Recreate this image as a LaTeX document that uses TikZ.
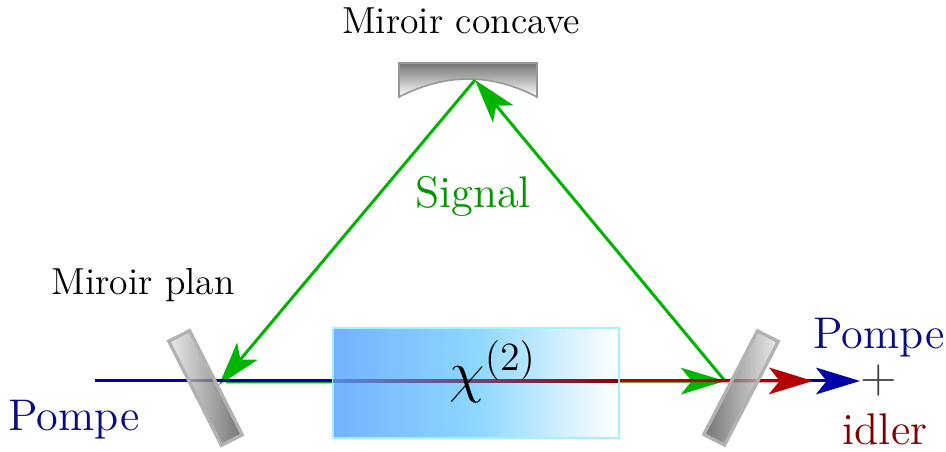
\documentclass[tikz,border=0pt]{standalone}
\usepackage{amsmath,amssymb}
\usepackage{xcolor}
\usetikzlibrary{arrows.meta}

\definecolor{pompeblue}{RGB}{0,0,170}
\definecolor{pompetext}{RGB}{10,10,130}
\definecolor{idlerred}{RGB}{180,0,0}
\definecolor{idlertext}{RGB}{125,0,0}
\definecolor{signalgreen}{RGB}{0,180,0}
\definecolor{signaltext}{RGB}{0,150,0}
\definecolor{crystalL}{RGB}{115,178,255}
\definecolor{crystalM}{RGB}{140,215,255}
\definecolor{crystaledge}{RGB}{165,240,255}
\definecolor{beamL}{RGB}{85,135,225}

\begin{document}
\begin{tikzpicture}[
  x=0.3pt, y=-0.3pt,
  beam/.style={line width=0.9pt},
  bigtip/.style={-{Stealth[length=13.2pt, width=8pt, inset=3.2pt]}},
  planmirror/.style={draw=gray!60, line width=1pt, minimum width=35pt, minimum height=7pt, inner sep=0pt, fill opacity=0.78},
  label/.style={font=\fontsize{11.3}{13}\selectfont, inner sep=0pt},
  biglabel/.style={font=\fontsize{13.3}{15}\selectfont, inner sep=0pt}
]
  \useasboundingbox (0,0) rectangle (946,452);
  \coordinate (apex) at (475,80);
  \coordinate (hitL) at (219,385);
  \coordinate (hitR) at (725,381);
  \coordinate (greenL) at (226,382);
  \coordinate (pompeIn) at (95,381);
  \coordinate (pompeOut) at (860,381);
  \coordinate (idlerOut) at (813,381);
  \coordinate (beamA) at (333,379.5);
  \coordinate (beamB) at (618,382.5);
  % faisceaux
  \draw[beam, signalgreen, bigtip] (hitR) -- (apex);
  \draw[beam, signalgreen, bigtip] (apex) -- (hitL);
  \draw[beam, signalgreen, bigtip] (greenL) -- (hitR);
  \draw[beam, pompeblue] (pompeIn) -- (340,381);
  \draw[beam, pompeblue, bigtip] (610,381) -- (pompeOut);
  \draw[beam, idlerred, bigtip] (610,380.5) -- (idlerOut);
  % cristal
  \node[minimum width=85.8pt, minimum height=33pt, inner sep=0pt, left color=crystalL, right color=white, middle color=crystalM, draw=crystaledge, line width=0.6pt] (crystal) at (475.5,383.5) {};
  \shade[left color=beamL, right color=idlerred!80!black] (beamA) rectangle (beamB);
  \node[inner sep=0pt, font=\fontsize{17}{19}\selectfont] (chi) at (493,372) {$\chi^{(2)}$};
  % miroirs
  \node[planmirror, rotate=-63.2, left color=gray!20, right color=black!70] (mirrorL) at (205.5,388) {};
  \node[planmirror, rotate=62.6, left color=black!70, right color=gray!20] (mirrorR) at (741,388) {};
  \path[draw=gray!80, line width=0.5pt, top color=black!55, bottom color=white] (399,63) -- (537,63) -- (537,97) .. controls (491,73) and (446,73) .. (399,97) -- cycle;
  % textes
  \node[label] (titleC) at (461,21) {Miroir concave};
  \node[label] (titleP) at (143,285) {Miroir plan};
  \node[biglabel, text=signaltext] (signal) at (473,196) {Signal};
  \node[biglabel, text=pompetext] (pompeA) at (74,420) {Pompe};
  \node[biglabel, text=pompetext] (pompeB) at (879,338) {Pompe};
  \node[biglabel, text=black!75] (plus) at (878.5,381) {$+$};
  \node[biglabel, text=idlertext] (idler) at (885,429) {idler};
\end{tikzpicture}
\end{document}
